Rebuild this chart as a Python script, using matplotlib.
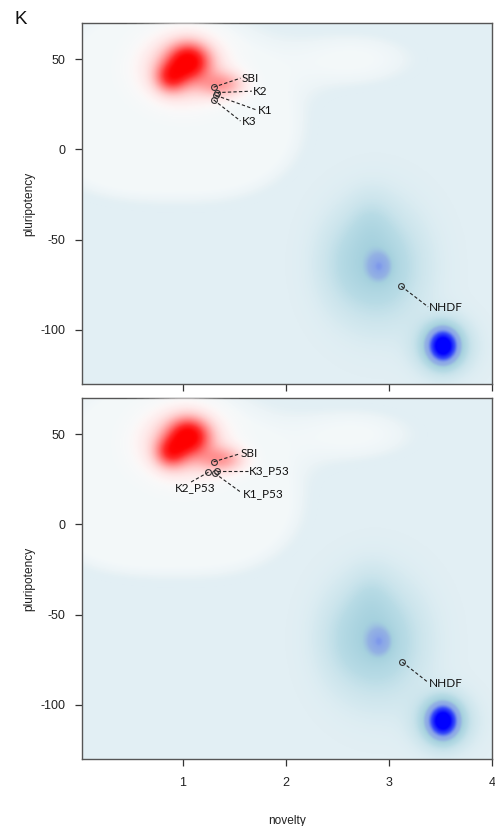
import numpy as np
import matplotlib
matplotlib.use("Agg")
import matplotlib.pyplot as plt
from matplotlib.colors import LinearSegmentedColormap, Normalize

plt.rcParams['axes.unicode_minus'] = False
plt.rcParams['font.family'] = ['Liberation Sans', 'DejaVu Sans']

# ---------------- data ----------------
# density components: light "halo" region
halo_x = [0.75, 1.45, 2.70, 0.45]
halo_y = [36, 8, 50, -2]
halo_sx = [0.74, 0.47, 0.52, 0.5]
halo_sy = [35, 22, 13, 16]
halo_w = [1.0, 0.7, 0.5, 0.55]

# blue density components (mid cluster + NHDF cluster)
blue_x = [2.90, 2.90, 2.82, 2.55, 3.52, 3.52]
blue_y = [-65, -65, -40, -62, -109, -109]
blue_sx = [0.29, 0.075, 0.15, 0.2, 0.18, 0.10]
blue_sy = [21, 5.0, 12, 18, 10, 6.5]
blue_w = [0.30, 0.26, 0.08, 0.08, 0.35, 0.85]

# red density components
red_x = [1.05, 0.88, 1.38, 1.00]
red_y = [49, 40, 36, 45]
red_sx = [0.13, 0.10, 0.15, 0.26]
red_sy = [6.5, 5.5, 5, 12]
red_w = [0.75, 0.5, 0.3, 0.3]

# labelled samples
top_names = ['SBI', 'K2', 'K1', 'K3', 'NHDF']
top_x = [1.30, 1.33, 1.32, 1.30, 3.12]
top_y = [34.5, 31.5, 30.0, 27.5, -75.8]
top_lx = [1.57, 1.68, 1.73, 1.57, 3.39]
top_ly = [39.5, 32.3, 21.5, 15.5, -87.5]
top_ha = ['left', 'left', 'left', 'left', 'left']
top_ex = [1.56, 1.67, 1.72, 1.56, 3.38]
top_ey = [39.5, 32.3, 21.8, 15.8, -87.2]

bot_names = ['SBI', 'K3_P53', 'K2_P53', 'K1_P53', 'NHDF']
bot_x = [1.30, 1.33, 1.25, 1.31, 3.13]
bot_y = [34.7, 29.9, 29.0, 28.4, -76.3]
bot_lx = [1.56, 1.64, 1.12, 1.58, 3.39]
bot_ly = [39.1, 29.9, 20.3, 17.2, -88.0]
bot_ha = ['left', 'left', 'center', 'left', 'left']
bot_ex = [1.55, 1.63, 1.08, 1.57, 3.38]
bot_ey = [39.1, 29.9, 23.5, 17.6, -87.5]

xticks = [1, 2, 3, 4]
yticks = [50, 0, -50, -100]
xlim = (0.02, 4.0)
ylim = (-130, 70)

# ---------------- fields ----------------
gx = np.linspace(xlim[0], xlim[1], 500)
gy = np.linspace(ylim[0], ylim[1], 500)
X, Y = np.meshgrid(gx, gy)


def field(cx, cy, sx, sy, w):
    Z = np.zeros_like(X)
    for a, b, c, d, e in zip(cx, cy, sx, sy, w):
        Z += e * np.exp(-0.5 * (((X - a) / c) ** 2 + ((Y - b) / d) ** 2))
    return Z


H = field(halo_x, halo_y, halo_sx, halo_sy, halo_w)
B = field(blue_x, blue_y, blue_sx, blue_sy, blue_w)
R = field(red_x, red_y, red_sx, red_sy, red_w)

bg = '#e2eff4'
halo_cmap = LinearSegmentedColormap.from_list('halo', [
    (0.0, (0.886, 0.937, 0.957, 0.0)),
    (0.5, (0.925, 0.957, 0.969, 1.0)),
    (1.0, (0.953, 0.973, 0.98, 1.0)),
])
blue_cmap = LinearSegmentedColormap.from_list('blue', [
    (0.0, (0.82, 0.91, 0.94, 0.0)),
    (0.06, (0.80, 0.90, 0.93, 0.6)),
    (0.2, (0.72, 0.86, 0.90, 1.0)),
    (0.33, (0.65, 0.82, 0.87, 1.0)),
    (0.42, (0.58, 0.70, 0.89, 1.0)),
    (0.55, (0.54, 0.65, 0.91, 1.0)),
    (0.62, (0.45, 0.55, 0.93, 1.0)),
    (0.75, (0.22, 0.30, 0.97, 1.0)),
    (1.0, (0.0, 0.0, 1.0, 1.0)),
])
red_cmap = LinearSegmentedColormap.from_list('red', [
    (0.0, (1.0, 1.0, 1.0, 0.0)),
    (0.06, (1.0, 0.96, 0.96, 0.9)),
    (0.2, (1.0, 0.82, 0.82, 1.0)),
    (0.45, (1.0, 0.50, 0.50, 1.0)),
    (0.7, (1.0, 0.18, 0.18, 1.0)),
    (0.9, (1.0, 0.02, 0.02, 1.0)),
    (1.0, (1.0, 0.0, 0.0, 1.0)),
])

# ---------------- figure ----------------
fig = plt.figure(figsize=(4.95, 8.26), dpi=100)
ax1 = fig.add_axes([0.165, 0.535, 0.829, 0.437])
ax2 = fig.add_axes([0.165, 0.081, 0.829, 0.437])

ext = [xlim[0], xlim[1], ylim[0], ylim[1]]
panels = [
    (ax1, top_names, top_x, top_y, top_lx, top_ly, top_ha, top_ex, top_ey),
    (ax2, bot_names, bot_x, bot_y, bot_lx, bot_ly, bot_ha, bot_ex, bot_ey),
]
for ax, names, px, py, lx, ly, has, ex, ey in panels:
    ax.set_facecolor(bg)
    ax.imshow(H, cmap=halo_cmap, norm=Normalize(0.22, 0.5), extent=ext,
              origin='lower', aspect='auto', interpolation='bilinear', zorder=1)
    ax.imshow(B, cmap=blue_cmap, norm=Normalize(0.0, 1.0), extent=ext,
              origin='lower', aspect='auto', interpolation='bilinear', zorder=2)
    ax.imshow(R, cmap=red_cmap, norm=Normalize(0.0, 1.0), extent=ext,
              origin='lower', aspect='auto', interpolation='bilinear', zorder=3)
    for n, x0, y0, x1, y1, ha, x2, y2 in zip(names, px, py, lx, ly, has, ex, ey):
        ax.plot([x0, x2], [y0, y2], ls=(0, (3, 2)), color='#222222', lw=0.8, zorder=4)
        ax.text(x1, y1, n, ha=ha, va='center', fontsize=8.5,
                family=['Lato', 'DejaVu Sans'], color='#111111', zorder=6)
    ax.plot(px, py, 'o', mfc='none', mec='#333333', mew=0.8, ms=4.2, zorder=5)
    ax.set_xlim(*xlim)
    ax.set_ylim(*ylim)
    ax.set_xticks(xticks)
    ax.set_yticks(yticks)
    ax.set_yticklabels([str(v) for v in yticks])
    ax.tick_params(direction='out', length=5, width=0.9, color='#333333',
                   labelsize=9, labelcolor='#222222')
    ax.tick_params(axis='y', pad=7)
    ax.tick_params(axis='x', pad=8)
    for s in ax.spines.values():
        s.set_color('#555555')
        s.set_linewidth(1.0)
    ax.set_ylabel('pluripotency', fontsize=8.6, color='#222222')
    ax.yaxis.set_label_coords(-0.114, 0.5)

ax1.set_xticklabels([])
ax2.set_xticklabels([str(v) for v in xticks])
ax2.set_xlabel('novelty', fontsize=8.6, color='#222222')
ax2.xaxis.set_label_coords(0.5, -0.155)

fig.text(0.03, 0.976, 'K', fontsize=13.5, ha='left', va='center', color='#111111')

fig.savefig('out.png', dpi=100)
